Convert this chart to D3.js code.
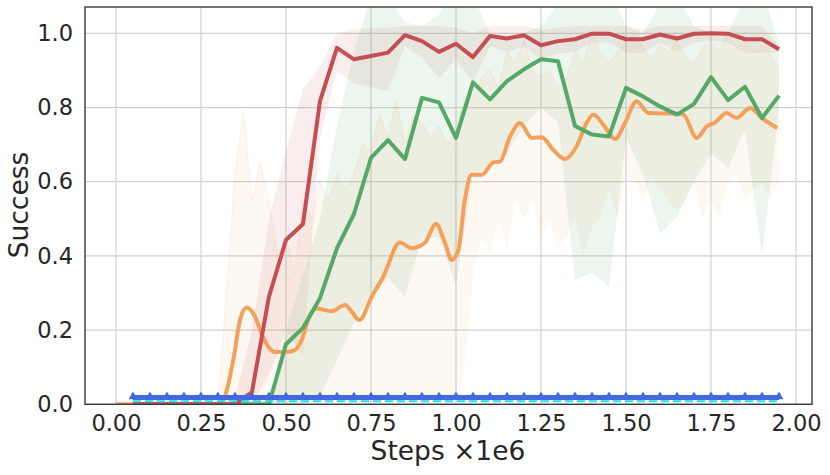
<!DOCTYPE html>
<html>
<head>
<meta charset="utf-8">
<script src="https://cdn.jsdelivr.net/npm/d3@7"></script>
<style>
  body { margin: 0; background: #fff; }
  svg { display: block; font-family: "DejaVu Sans", sans-serif; }
</style>
</head>
<body>
<svg width="830" height="475"></svg>
<script>
// ---- data (steps in 1e6) ----
const steps = [0.05, 0.10, 0.15, 0.20, 0.25, 0.30, 0.35, 0.40, 0.45, 0.50,
  0.55, 0.60, 0.65, 0.70, 0.75, 0.80, 0.85, 0.90, 0.95, 1.00,
  1.05, 1.10, 1.15, 1.20, 1.25, 1.30, 1.35, 1.40, 1.45, 1.50,
  1.55, 1.60, 1.65, 1.70, 1.75, 1.80, 1.85, 1.90, 1.95];

const redMean = [0, 0, 0, 0, 0, 0, 0, 0.033, 0.29, 0.443,
  0.486, 0.817, 0.961, 0.930, 0.939, 0.948, 0.995, 0.979, 0.950, 0.972,
  0.936, 0.993, 0.986, 0.995, 0.968, 0.979, 0.984, 0.999, 0.999, 0.984,
  0.984, 0.997, 0.986, 0.999, 1.0, 0.999, 0.984, 0.984, 0.957];
const redHi = [0, 0, 0, 0, 0, 0, 0.02, 0.2, 0.5, 0.68,
  0.85, 0.91, 1.0, 1.01, 1.015, 1.015, 1.02, 1.02, 1.02, 1.015,
  1.0, 1.02, 1.02, 1.02, 1.01, 1.015, 1.02, 1.02, 1.02, 1.02,
  1.01, 1.02, 1.02, 1.02, 1.02, 1.02, 1.02, 1.02, 0.965];
const redLo = [0, 0, 0, 0, 0, 0, 0, 0, 0.08, 0.2,
  0.13, 0.72, 0.9, 0.865, 0.855, 0.845, 0.965, 0.935, 0.88, 0.93,
  0.87, 0.965, 0.95, 0.965, 0.93, 0.945, 0.95, 0.975, 0.975, 0.948,
  0.948, 0.975, 0.952, 0.975, 0.98, 0.975, 0.948, 0.948, 0.95];

const greenMean = [0, 0, 0, 0, 0, 0, 0, 0, 0, 0.162,
  0.206, 0.286, 0.421, 0.513, 0.664, 0.712, 0.661, 0.826, 0.814, 0.718,
  0.868, 0.822, 0.871, 0.903, 0.93, 0.925, 0.75, 0.727, 0.722, 0.853,
  0.83, 0.803, 0.781, 0.81, 0.882, 0.82, 0.856, 0.772, 0.832];
const greenHi = [0, 0, 0, 0, 0, 0, 0, 0, 0, 0.2,
  0.35, 0.5, 0.75, 0.95, 1.1, 1.1, 1.03, 1.02, 1.05, 1.12,
  1.1, 1.0, 0.99, 1.0, 1.02, 1.08, 1.12, 1.1, 1.12, 1.02,
  1.0, 1.08, 1.1, 1.02, 1.0, 1.0, 1.1, 1.12, 0.97];
const greenLo = [0, 0, 0, 0, 0, 0, 0, 0, 0, 0,
  0, 0.02, 0.12, 0.22, 0.3, 0.34, 0.29, 0.45, 0.45, 0.32,
  0.62, 0.64, 0.68, 0.75, 0.8, 0.76, 0.335, 0.355, 0.317, 0.72,
  0.62, 0.461, 0.506, 0.6, 0.677, 0.637, 0.74, 0.403, 0.795];

const blueLevel = 0.018;
const cyanLevel = 0.008;

// orange: smoothed curve
const orangeX = [0, 0.05, 0.1, 0.15, 0.2, 0.25, 0.3, 0.316, 0.345, 0.365, 0.384, 0.409, 0.428, 0.448,
  0.468, 0.502, 0.526, 0.546, 0.571, 0.59, 0.634, 0.674, 0.693, 0.716, 0.752, 0.786, 0.835,
  0.87, 0.909, 0.941, 0.968, 0.987, 1.007, 1.026, 1.046, 1.076, 1.11, 1.13, 1.159, 1.188,
  1.223, 1.252, 1.286, 1.321, 1.355, 1.384, 1.404, 1.433, 1.468, 1.497, 1.531, 1.566,
  1.605, 1.64, 1.669, 1.708, 1.737, 1.762, 1.796, 1.825, 1.865, 1.899, 1.945];
const orangeY = [0, 0, 0, 0, 0, 0, 0, 0.011, 0.119, 0.227, 0.261, 0.236, 0.191, 0.155,
  0.141, 0.141, 0.146, 0.173, 0.241, 0.258, 0.251, 0.268, 0.25, 0.227, 0.29, 0.344, 0.436,
  0.421, 0.436, 0.486, 0.434, 0.389, 0.416, 0.551, 0.619, 0.619, 0.652, 0.655, 0.722, 0.758,
  0.718, 0.72, 0.686, 0.661, 0.696, 0.758, 0.781, 0.754, 0.715, 0.758, 0.817, 0.785,
  0.784, 0.784, 0.781, 0.718, 0.749, 0.76, 0.785, 0.772, 0.799, 0.772, 0.745];

// orange: spread of the raw runs
const orangeBandX = [0.3, 0.325, 0.35, 0.375, 0.4, 0.425, 0.45, 0.475, 0.5, 0.525, 0.55, 0.575,
  0.6, 0.625, 0.65, 0.675, 0.7, 0.725, 0.75, 0.775, 0.8, 0.825, 0.85, 0.875, 0.9, 0.925,
  0.95, 0.975, 1.0, 1.025, 1.05, 1.075, 1.1, 1.125, 1.15, 1.175, 1.2, 1.225, 1.25, 1.275,
  1.3, 1.325, 1.35, 1.375, 1.4, 1.425, 1.45, 1.475, 1.5, 1.525, 1.55, 1.575, 1.6, 1.625,
  1.65, 1.675, 1.7, 1.725, 1.75, 1.775, 1.8, 1.825, 1.85, 1.875, 1.9, 1.925, 1.95];
const orangeHi = [0, 0.3, 0.62, 0.79, 0.55, 0.65, 0.55, 0.4, 0.45, 0.35, 0.55, 0.5,
  0.6, 0.55, 0.62, 0.58, 0.62, 0.7, 0.68, 0.78, 0.72, 0.82, 0.7, 0.78, 0.76, 0.72,
  0.75, 0.7, 0.74, 0.82, 0.82, 0.88, 0.9, 0.85, 0.95, 0.92, 0.98, 0.9, 0.88, 0.9,
  0.85, 0.88, 0.95, 0.92, 1.0, 0.95, 0.92, 0.95, 0.98, 1.0, 0.96, 0.93, 0.97, 0.95,
  0.98, 0.94, 0.92, 0.96, 0.98, 0.95, 1.0, 0.96, 0.98, 0.95, 0.97, 0.94, 0.9];
const orangeLo = [0, 0, 0, 0, 0, 0, 0, 0, 0, 0, 0, 0,
  0, 0, 0, 0, 0, 0, 0, 0, 0, 0, 0, 0, 0, 0,
  0, 0, 0, 0.1, 0.35, 0.45, 0.4, 0.5, 0.42, 0.55, 0.5, 0.55, 0.45, 0.5,
  0.42, 0.45, 0.5, 0.4, 0.48, 0.5, 0.58, 0.5, 0.62, 0.6, 0.55, 0.62, 0.58, 0.55,
  0.52, 0.55, 0.6, 0.5, 0.55, 0.5, 0.6, 0.62, 0.55, 0.58, 0.6, 0.55, 0.6];

const xTicks = [0, 0.25, 0.5, 0.75, 1.0, 1.25, 1.5, 1.75, 2.0];
const yTicks = [0, 0.2, 0.4, 0.6, 0.8, 1.0];

// ---- layout ----
const svg = d3.select('svg');
const plot = { left: 85, right: 812, top: 7, bottom: 404.3 };

const x = d3.scaleLinear().domain([-0.091, 2.047]).range([plot.left, plot.right]);
const y = d3.scaleLinear().domain([0, 1.071]).range([plot.bottom, plot.top]);

svg.append('clipPath').attr('id', 'clip')
  .append('rect')
    .attr('x', plot.left).attr('y', plot.top)
    .attr('width', plot.right - plot.left).attr('height', plot.bottom - plot.top);

// grid
const grid = svg.append('g').attr('stroke', '#d2d2d2').attr('stroke-width', 1.2);
grid.selectAll('.vg').data(xTicks).enter().append('line')
  .attr('x1', d => x(d)).attr('x2', d => x(d))
  .attr('y1', plot.top).attr('y2', plot.bottom);
grid.selectAll('.hg').data(yTicks).enter().append('line')
  .attr('y1', d => y(d)).attr('y2', d => y(d))
  .attr('x1', plot.left).attr('x2', plot.right);

const g = svg.append('g').attr('clip-path', 'url(#clip)');

const band = (xs, lo, hi) => d3.area()
  .x((d, i) => x(xs[i]))
  .y0((d, i) => y(lo[i]))
  .y1((d, i) => y(hi[i]))(xs);

// bands
g.append('path').attr('d', band(steps, redLo, redHi))
  .attr('fill', '#c44e52').attr('fill-opacity', 0.1);
g.append('path').attr('d', band(steps, greenLo, greenHi))
  .attr('fill', '#55a868').attr('fill-opacity', 0.11);
g.append('path').attr('d', band(orangeBandX, orangeLo, orangeHi))
  .attr('fill', '#f5a05a').attr('fill-opacity', 0.08);
g.append('path')
  .attr('d', d3.line().x((d, i) => x(orangeBandX[i])).y((d, i) => y(orangeHi[i]))(orangeBandX))
  .attr('fill', 'none').attr('stroke', '#f5a05a').attr('stroke-opacity', 0.15).attr('stroke-width', 1);

// mean lines
const lineOf = (xs, ys, curve) => d3.line()
  .x((d, i) => x(xs[i]))
  .y((d, i) => y(ys[i]))
  .curve(curve || d3.curveLinear)(xs);

g.append('path').attr('d', lineOf(orangeX, orangeY, d3.curveMonotoneX))
  .attr('fill', 'none').attr('stroke', '#f5a05a').attr('stroke-width', 4)
  .attr('stroke-linejoin', 'round');
g.append('path').attr('d', lineOf(steps, greenMean))
  .attr('fill', 'none').attr('stroke', '#55a868').attr('stroke-width', 4)
  .attr('stroke-linejoin', 'round');
g.append('path').attr('d', lineOf(steps, redMean))
  .attr('fill', 'none').attr('stroke', '#c44e52').attr('stroke-width', 4)
  .attr('stroke-linejoin', 'round');

// blue baseline with triangle markers
g.append('path').attr('d', lineOf(steps, steps.map(() => blueLevel)))
  .attr('fill', 'none').attr('stroke', '#4169e1').attr('stroke-width', 5);
g.selectAll('.tri').data(steps).enter().append('path')
  .attr('d', d3.symbol(d3.symbolTriangle, 34))
  .attr('transform', d => `translate(${x(d)},${y(blueLevel) - 1})`)
  .attr('fill', '#4169e1');
g.append('path').attr('d', lineOf(steps, steps.map(() => cyanLevel)))
  .attr('fill', 'none').attr('stroke', '#22dde8').attr('stroke-width', 2)
  .attr('stroke-dasharray', '8,4');

// frame
svg.append('rect')
  .attr('x', plot.left).attr('y', plot.top)
  .attr('width', plot.right - plot.left).attr('height', plot.bottom - plot.top)
  .attr('fill', 'none').attr('stroke', '#3a3a3a').attr('stroke-width', 1.4);

// axes
const xAxis = svg.append('g')
  .attr('transform', `translate(0,${plot.bottom})`)
  .call(d3.axisBottom(x).tickValues(xTicks).tickFormat(d3.format('.2f')).tickSize(0).tickPadding(11));
const yAxis = svg.append('g')
  .attr('transform', `translate(${plot.left},0)`)
  .call(d3.axisLeft(y).tickValues(yTicks).tickFormat(d3.format('.1f')).tickSize(0).tickPadding(12));
[xAxis, yAxis].forEach(a => {
  a.select('.domain').remove();
  a.selectAll('text')
    .attr('font-family', '"DejaVu Sans", sans-serif')
    .attr('font-size', 22.5)
    .attr('fill', '#262626');
});

svg.append('text')
  .attr('x', 448).attr('y', 460)
  .attr('text-anchor', 'middle')
  .attr('font-size', 26.5).attr('fill', '#262626')
  .text('Steps ×1e6');

svg.append('text')
  .attr('transform', 'translate(28,205) rotate(-90)')
  .attr('text-anchor', 'middle')
  .attr('font-size', 26.5).attr('fill', '#262626')
  .text('Success');
</script>
</body>
</html>
